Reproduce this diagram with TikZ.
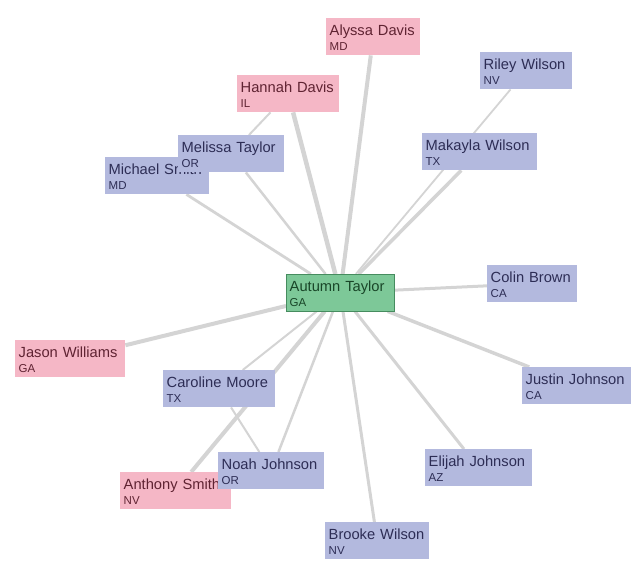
\documentclass[tikz,border=0pt]{standalone}
\usepackage{fontspec}
\setmainfont{Liberation Sans}
\usetikzlibrary{backgrounds}

\definecolor{pinkfill}{RGB}{245,183,198}
\definecolor{pinktext}{RGB}{95,35,50}
\definecolor{bluefill}{RGB}{179,185,222}
\definecolor{bluetext}{RGB}{45,45,85}
\definecolor{rootfill}{RGB}{125,200,152}
\definecolor{rootline}{RGB}{70,140,95}
\definecolor{roottext}{RGB}{25,70,40}
\definecolor{linkgray}{RGB}{212,212,212}

\newcommand{\who}[2]{\rule{0pt}{14pt}#1\\{\fontsize{11.5}{15}\selectfont\rule[-2pt]{0pt}{2pt}#2}}

\begin{document}
\begin{tikzpicture}[x=1pt, y=-1pt,
    card/.style={anchor=north west, inner xsep=3.5pt, inner ysep=3pt, align=left,
                 text width=#1, font=\fontsize{14.7}{15}\selectfont},
    rootcard/.style={card=#1, fill=rootfill, draw=rootline, text=roottext},
    pinkcard/.style={card=#1, fill=pinkfill, text=pinktext},
    bluecard/.style={card=#1, fill=bluefill, text=bluetext},
    link/.style={draw=linkgray, line width=#1}]
  \useasboundingbox (0,0) rectangle (632,563);

  \node[rootcard=101pt] at (286,274) (autumn)   {\who{Autumn~Taylor}{GA}};

  \node[pinkcard=87pt]  at (326,18)  (alyssa)   {\who{Alyssa~Davis}{MD}};
  \node[pinkcard=95pt]  at (237,75)  (hannah)   {\who{Hannah~Davis}{IL}};
  \node[bluecard=85pt]  at (480,52)  (riley)    {\who{Riley~Wilson}{NV}};
  \node[bluecard=108pt] at (422,133) (makayla)  {\who{Makayla~Wilson}{TX}};
  \node[bluecard=97pt]  at (105,157) (michael)  {\who{Michael~Smith}{MD}};
  \node[bluecard=99pt]  at (178,135) (melissa)  {\who{Melissa~Taylor}{OR}};
  \node[bluecard=83pt]  at (487,265) (colin)    {\who{Colin~Brown}{CA}};
  \node[bluecard=102pt] at (522,367) (justin)   {\who{Justin~Johnson}{CA}};
  \node[bluecard=100pt] at (425,449) (elijah)   {\who{Elijah~Johnson}{AZ}};
  \node[bluecard=97pt]  at (325,522) (brooke)   {\who{Brooke~Wilson}{NV}};
  \node[pinkcard=103pt] at (15,340)  (jason)    {\who{Jason~Williams}{GA}};
  \node[bluecard=105pt] at (163,370) (caroline) {\who{Caroline~Moore}{TX}};
  \node[pinkcard=104pt] at (120,472) (anthony)  {\who{Anthony~Smith}{NV}};
  \node[bluecard=99pt]  at (218,452) (noah)     {\who{Noah~Johnson}{OR}};

  \begin{pgfonlayer}{background}
    \draw[link=4pt]   (autumn) -- (alyssa);
    \draw[link=4.5pt] (autumn) -- (hannah);
    \draw[link=1.8pt] (autumn) -- (riley);
    \draw[link=3.5pt] (autumn) -- (makayla);
    \draw[link=2.5pt] (autumn) -- (melissa);
    \draw[link=2.8pt] (autumn) -- (michael);
    \draw[link=3pt]   (autumn) -- (colin);
    \draw[link=3.5pt] (autumn) -- (justin);
    \draw[link=3pt]   (autumn) -- (elijah);
    \draw[link=3pt]   (autumn) -- (brooke);
    \draw[link=2.5pt] (autumn) -- (noah);
    \draw[link=4pt]   (autumn) -- (anthony);
    \draw[link=2pt]   (autumn) -- (caroline);
    \draw[link=4pt]   (autumn) -- (jason);
    \draw[link=2pt]   (caroline) -- (noah);
    \draw[link=2pt]   (hannah) -- (melissa);
  \end{pgfonlayer}
\end{tikzpicture}
\end{document}
